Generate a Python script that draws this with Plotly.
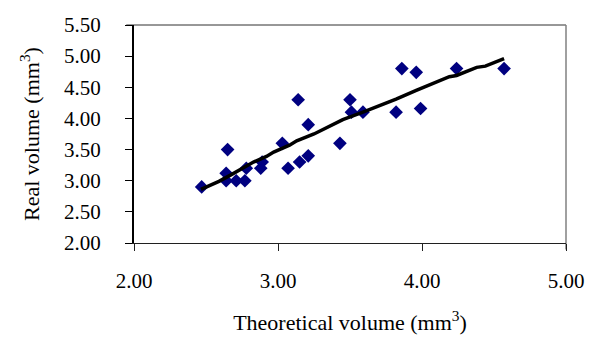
import plotly.graph_objects as go

theo = [2.47, 2.65, 2.64, 2.64, 2.71, 2.77, 2.78, 2.88, 2.89, 3.03, 3.07, 3.14, 3.15,
        3.21, 3.21, 3.43, 3.50, 3.51, 3.59, 3.82, 3.86, 3.96, 3.99, 4.24, 4.57]
real = [2.90, 3.50, 3.12, 3.00, 3.00, 3.00, 3.20, 3.20, 3.30, 3.60, 3.20, 4.30, 3.30,
        3.40, 3.90, 3.60, 4.30, 4.10, 4.10, 4.10, 4.80, 4.74, 4.16, 4.80, 4.80]

trend_x = [2.465, 2.53, 2.59, 2.67, 2.76, 2.83, 2.92, 2.97, 3.08, 3.13, 3.25, 3.34,
           3.45, 3.59, 3.69, 3.82, 3.96, 4.06, 4.19, 4.24, 4.38, 4.44, 4.57]
trend_y = [2.86, 2.92, 2.99, 3.09, 3.20, 3.30, 3.39, 3.46, 3.57, 3.64, 3.75, 3.86,
           3.98, 4.10, 4.19, 4.31, 4.45, 4.55, 4.67, 4.69, 4.82, 4.84, 4.96]

xticks = [2.0, 3.0, 4.0, 5.0]
yticks = [2.0, 2.5, 3.0, 3.5, 4.0, 4.5, 5.0, 5.5]

fig = go.Figure()
fig.add_trace(go.Scatter(x=theo, y=real, mode="markers",
                         marker=dict(symbol="diamond", size=10.5, color="#000080"),
                         showlegend=False))
fig.add_trace(go.Scatter(x=trend_x, y=trend_y, mode="lines",
                         line=dict(color="black", width=3.5), showlegend=False))

font = dict(family="Liberation Serif, Times New Roman, serif", size=21, color="black")
tfont = dict(family="Liberation Serif, Times New Roman, serif", size=22, color="black")

# plot-area frame: dark top edge, gray right edge
fig.add_shape(type="line", xref="paper", yref="paper", x0=-0.018, y0=1, x1=1, y1=1,
              line=dict(color="#303030", width=1), layer="below")
fig.add_shape(type="line", xref="paper", yref="paper", x0=1, y0=-0.03, x1=1, y1=1,
              line=dict(color="#808080", width=1.5), layer="below")

fig.update_layout(
    width=595, height=342,
    margin=dict(l=134, r=29, t=25, b=99),
    paper_bgcolor="white", plot_bgcolor="white",
    font=font,
    xaxis=dict(range=[2.0, 5.0], tickvals=xticks, ticktext=[f"{v:.2f}" for v in xticks],
               showgrid=False, zeroline=False, showline=True, linecolor="#202020", linewidth=1,
               ticks="outside", ticklen=7, tickcolor="#202020", tickwidth=1,
               ticklabelstandoff=12,
               title=dict(text="Theoretical volume (mm<sup>3</sup>)", standoff=22, font=tfont)),
    yaxis=dict(range=[2.0, 5.5], tickvals=yticks, ticktext=[f"{v:.2f}" for v in yticks],
               showgrid=False, zeroline=False, showline=True, linecolor="black", linewidth=2,
               ticks="outside", ticklen=7, tickcolor="black", tickwidth=1,
               ticklabelstandoff=20,
               title=dict(text="Real volume (mm<sup>3</sup>)", standoff=18, font=tfont)),
)

fig.write_html("out.html")
